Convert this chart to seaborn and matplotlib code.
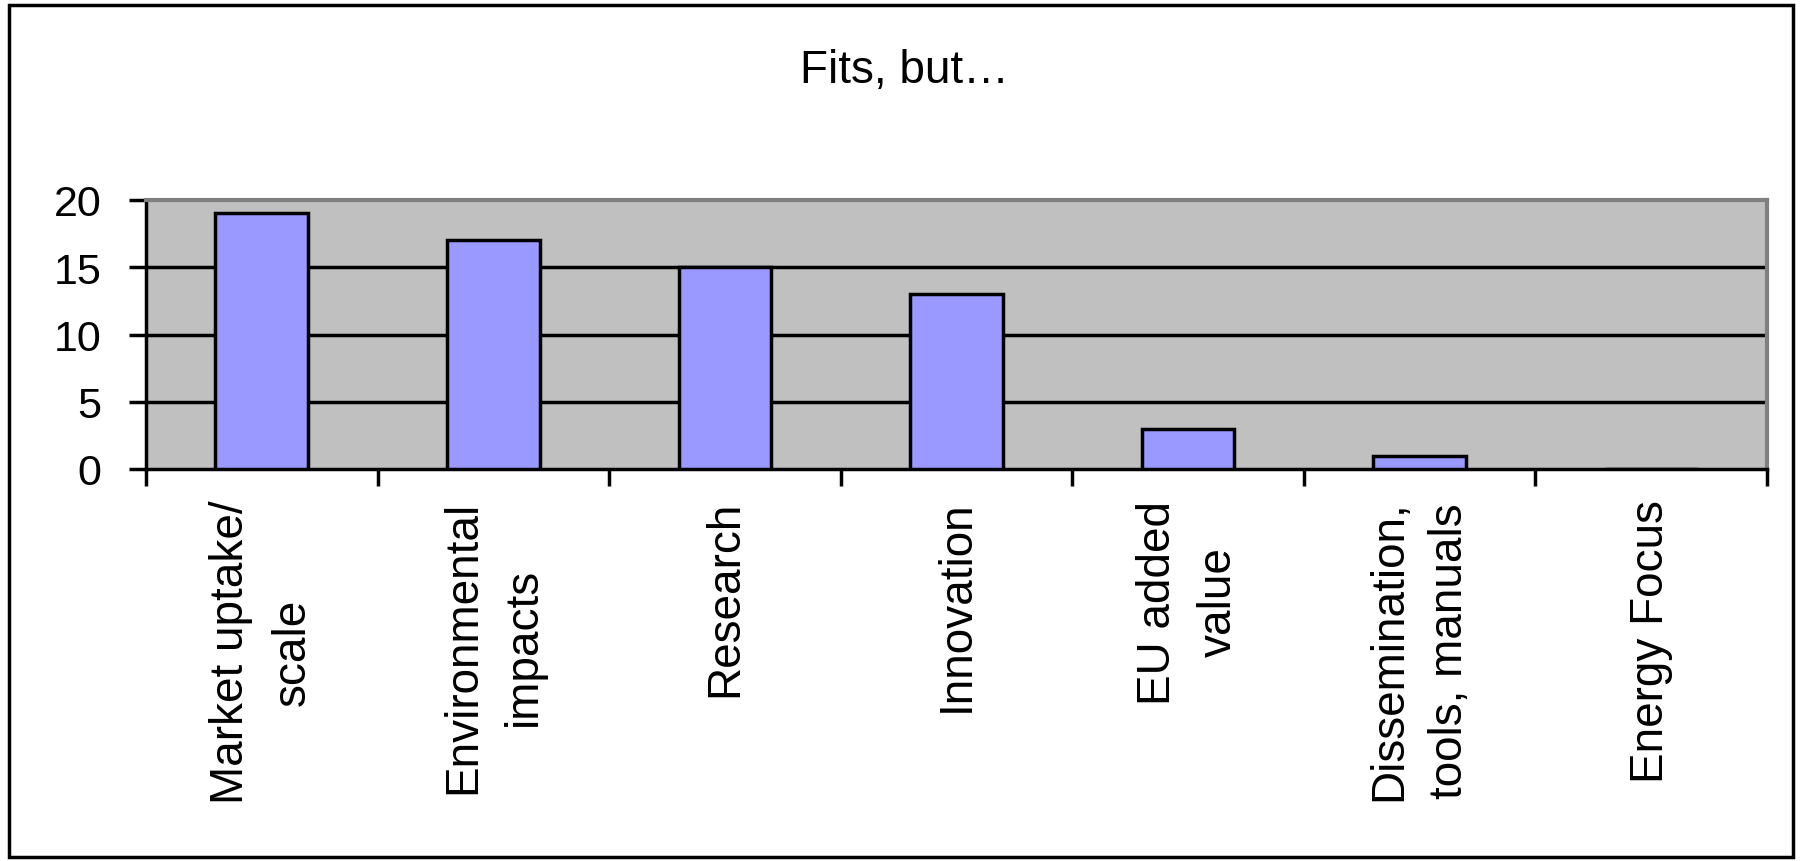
import numpy as np
import pandas as pd
import matplotlib
matplotlib.use("Agg")
import matplotlib.pyplot as plt
import seaborn as sns
from matplotlib.patches import Rectangle

categories = ["Market uptake/\nscale", "Environmental\nimpacts", "Research", "Innovation",
              "EU added\nvalue", "Dissemination,\ntools, manuals", "Energy Focus"]
counts = [19, 17, 15, 13, 3, 1, 0]
yticks = [0, 5, 10, 15, 20]
title = "Fits, but\u2026"

df = pd.DataFrame({"category": categories, "count": counts})

sns.set_style("white")
plt.rcParams["font.family"] = ["Liberation Sans", "DejaVu Sans"]
plt.rcParams["text.color"] = "black"
plt.rcParams["xtick.color"] = "black"
plt.rcParams["ytick.color"] = "black"

fig = plt.figure(figsize=(18.01, 8.62), dpi=100)
ax = fig.add_axes([146/1801, 1-470/862, (1767-146)/1801, (470-201)/862])
ax.set_facecolor("#C0C0C0")

sns.barplot(data=df, x="category", y="count", color="#9999FF", edgecolor="black",
            linewidth=2.5, width=0.4, saturation=1, ax=ax, zorder=3)

ax.set_ylim(0, 20)
ax.set_xlim(-0.5, len(categories) - 0.5)
ax.set_yticks(yticks)
ax.set_yticklabels([str(v) for v in yticks], fontsize=31)
for v in yticks[1:-1]:
    ax.axhline(v, color="black", lw=2.5, zorder=1)

# labels at the centres, tick marks at the category borders
ax.set_xticks(range(len(categories)))
ax.set_xticklabels(categories, rotation=90, fontsize=33, ha="center", va="top",
                   multialignment="center", linespacing=1.5)
ax.set_xticks(np.arange(-0.5, len(categories)), minor=True)
ax.tick_params(axis="x", which="major", bottom=True, length=0, pad=22)
ax.tick_params(axis="x", which="minor", bottom=True, length=12, width=2.5, direction="out")
ax.tick_params(axis="y", left=True, length=12, width=2.5, direction="out", pad=20)
ax.set_xlabel("")
ax.set_ylabel("")

for side in ["left", "bottom"]:
    ax.spines[side].set_color("black")
    ax.spines[side].set_linewidth(2.5)
for side in ["top", "right"]:
    ax.spines[side].set_visible(True)
    ax.spines[side].set_color("#808080")
    ax.spines[side].set_linewidth(3)

fig.text(904/1801, 1-71/862, title, fontsize=33, ha="center", va="center")

fig.patches.append(Rectangle((9/1801, 4/862), (1793-9)/1801, (858-6)/862,
                             transform=fig.transFigure, fill=False, edgecolor="black", lw=2.5))

fig.savefig("out.png", dpi=100, facecolor="white")
